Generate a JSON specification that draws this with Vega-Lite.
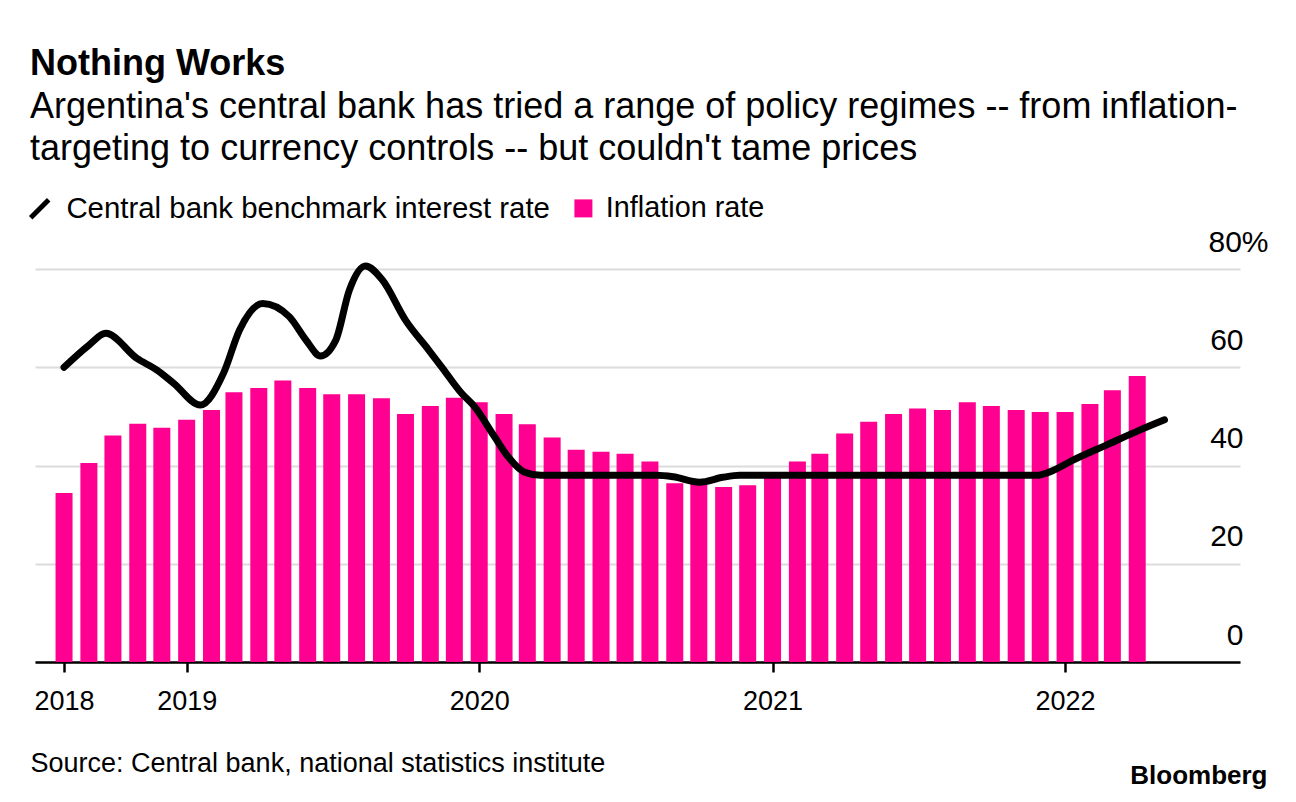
{
  "$schema": "https://vega.github.io/schema/vega-lite/v6.json",
  "width": 1205,
  "height": 393,
  "autosize": {"type": "none"},
  "padding": {"left": 35, "top": 269, "right": 56, "bottom": 140},
  "background": "white",
  "config": {"view": {"stroke": null}, "font": "Liberation Sans"},
  "title": {
    "text": "Nothing Works",
    "subtitle": ["Argentina's central bank has tried a range of policy regimes -- from inflation-", "targeting to currency controls -- but couldn't tame prices"],
    "anchor": "start",
    "frame": "group",
    "dx": -5,
    "font": "Liberation Sans",
    "fontSize": 36,
    "fontWeight": "bold",
    "color": "#000000",
    "subtitleFont": "Liberation Sans",
    "subtitleFontSize": 36,
    "subtitleColor": "#000000",
    "subtitleLineHeight": 42,
    "subtitlePadding": 7,
    "offset": 26
  },
  "datasets": {
    "inflation": [
      {"date": "2018-08-01", "value": 34.4}, {"date": "2018-09-01", "value": 40.5}, {"date": "2018-10-01", "value": 46.1}, {"date": "2018-11-01", "value": 48.5}, {"date": "2018-12-01", "value": 47.7},
      {"date": "2019-01-01", "value": 49.3}, {"date": "2019-02-01", "value": 51.3}, {"date": "2019-03-01", "value": 54.9}, {"date": "2019-04-01", "value": 55.8}, {"date": "2019-05-01", "value": 57.3}, {"date": "2019-06-01", "value": 55.8}, {"date": "2019-07-01", "value": 54.5}, {"date": "2019-08-01", "value": 54.5}, {"date": "2019-09-01", "value": 53.7}, {"date": "2019-10-01", "value": 50.5}, {"date": "2019-11-01", "value": 52.1}, {"date": "2019-12-01", "value": 53.8},
      {"date": "2020-01-01", "value": 52.9}, {"date": "2020-02-01", "value": 50.5}, {"date": "2020-03-01", "value": 48.4}, {"date": "2020-04-01", "value": 45.7}, {"date": "2020-05-01", "value": 43.2}, {"date": "2020-06-01", "value": 42.8}, {"date": "2020-07-01", "value": 42.4}, {"date": "2020-08-01", "value": 40.8}, {"date": "2020-09-01", "value": 36.4}, {"date": "2020-10-01", "value": 37.2}, {"date": "2020-11-01", "value": 35.6}, {"date": "2020-12-01", "value": 36.0},
      {"date": "2021-01-01", "value": 38.5}, {"date": "2021-02-01", "value": 40.8}, {"date": "2021-03-01", "value": 42.4}, {"date": "2021-04-01", "value": 46.5}, {"date": "2021-05-01", "value": 48.9}, {"date": "2021-06-01", "value": 50.5}, {"date": "2021-07-01", "value": 51.6}, {"date": "2021-08-01", "value": 51.3}, {"date": "2021-09-01", "value": 52.9}, {"date": "2021-10-01", "value": 52.1}, {"date": "2021-11-01", "value": 51.3}, {"date": "2021-12-01", "value": 50.9},
      {"date": "2022-01-01", "value": 50.9}, {"date": "2022-02-01", "value": 52.5}, {"date": "2022-03-01", "value": 55.3}, {"date": "2022-04-01", "value": 58.2}
    ],
    "rate": [
      {"date": "2018-08-01", "value": 60.0}, {"date": "2018-09-01", "value": 64.5}, {"date": "2018-09-22", "value": 66.9}, {"date": "2018-10-31", "value": 61.8}, {"date": "2018-11-25", "value": 59.4}, {"date": "2018-12-16", "value": 56.7},
      {"date": "2019-01-18", "value": 52.3}, {"date": "2019-02-16", "value": 58.8}, {"date": "2019-03-08", "value": 67.6}, {"date": "2019-04-06", "value": 73.0}, {"date": "2019-05-09", "value": 70.3}, {"date": "2019-05-30", "value": 65.5}, {"date": "2019-06-17", "value": 62.3}, {"date": "2019-07-06", "value": 65.5}, {"date": "2019-07-23", "value": 75.7}, {"date": "2019-08-12", "value": 80.6}, {"date": "2019-09-02", "value": 77.8}, {"date": "2019-10-01", "value": 69.6}, {"date": "2019-10-30", "value": 63.5}, {"date": "2019-11-15", "value": 60.1}, {"date": "2019-12-10", "value": 54.7}, {"date": "2019-12-26", "value": 52.0},
      {"date": "2020-01-20", "value": 45.9}, {"date": "2020-02-06", "value": 41.8}, {"date": "2020-02-26", "value": 38.7}, {"date": "2020-03-18", "value": 38.0}, {"date": "2020-08-09", "value": 38.0}, {"date": "2020-08-30", "value": 37.7}, {"date": "2020-10-02", "value": 36.6}, {"date": "2020-10-31", "value": 37.6}, {"date": "2020-11-21", "value": 38.0},
      {"date": "2021-11-27", "value": 38.0}, {"date": "2021-12-13", "value": 38.7}, {"date": "2022-01-11", "value": 41.1}, {"date": "2022-02-22", "value": 44.2}, {"date": "2022-04-04", "value": 47.2}, {"date": "2022-05-05", "value": 49.3}
    ]
  },
  "encoding": {
    "x": {
      "field": "date",
      "type": "temporal",
      "scale": {"type": "utc", "domain": [{"year": 2018, "month": 7, "date": 2, "utc": true}, {"year": 2022, "month": 8, "date": 1, "utc": true}]},
      "axis": {
        "values": [{"year": 2018, "month": 8, "date": 1, "utc": true}, {"year": 2019, "month": 1, "date": 1, "utc": true}, {"year": 2020, "month": 1, "date": 1, "utc": true}, {"year": 2021, "month": 1, "date": 1, "utc": true}, {"year": 2022, "month": 1, "date": 1, "utc": true}],
        "format": "%Y",
        "labelFlush": false,
        "grid": false,
        "domainColor": "#000000",
        "domainWidth": 2.5,
        "tickColor": "#000000",
        "tickWidth": 2.5,
        "tickSize": 10,
        "labelFont": "Liberation Sans",
        "labelFontSize": 27,
        "labelColor": "#000000",
        "labelPadding": 16,
        "title": "Source: Central bank, national statistics institute",
        "titleX": -5,
        "titleAlign": "left",
        "titleFont": "Liberation Sans",
        "titleFontSize": 27,
        "titleFontWeight": "normal",
        "titleColor": "#000000",
        "titlePadding": 36
      }
    },
    "y": {
      "field": "value",
      "type": "quantitative",
      "scale": {"domain": [0, 80]},
      "axis": {
        "orient": "right",
        "values": [0, 20, 40, 60, 80],
        "labelExpr": "datum.value == 80 ? '80%' : datum.label",
        "domain": false,
        "ticks": false,
        "grid": true,
        "gridColor": "#dcdcdc",
        "gridWidth": 2,
        "labelFont": "Liberation Sans",
        "labelFontSize": 30,
        "labelColor": "#000000",
        "labelAlign": {"condition": {"test": "datum.value == 80", "value": "left"}, "value": "right"},
        "labelPadding": {"condition": {"test": "datum.value == 80", "value": -32}, "value": 3},
        "labelBaseline": "alphabetic",
        "labelOffset": -18,
        "title": "Bloomberg",
        "titleAngle": 0,
        "titleX": 27,
        "titleY": 514,
        "titleAlign": "right",
        "titleBaseline": "alphabetic",
        "titleFont": "Liberation Sans",
        "titleFontSize": 26,
        "titleFontWeight": "bold",
        "titleColor": "#000000"
      }
    }
  },
  "layer": [
    {
      "data": {"name": "inflation"},
      "mark": {"type": "bar", "width": 17},
      "encoding": {
        "fill": {
          "datum": "Inflation rate",
          "scale": {"range": ["#ff0090"]},
          "legend": {
            "title": null,
            "orient": "none",
            "legendX": 534,
            "legendY": -75,
            "symbolType": "square",
            "symbolSize": 324,
            "symbolStrokeWidth": 0,
            "symbolFillColor": "#ff0090",
            "labelFont": "Liberation Sans",
            "labelFontSize": 28.8,
            "labelColor": "#000000",
            "labelOffset": 8,
            "labelLimit": 800,
            "padding": 0
          }
        }
      }
    },
    {
      "data": {"name": "rate"},
      "mark": {"type": "line", "interpolate": "monotone", "strokeWidth": 7, "strokeCap": "round", "strokeJoin": "round"},
      "encoding": {
        "color": {
          "datum": "Central bank benchmark interest rate",
          "scale": {"range": ["#000000"]},
          "legend": {
            "title": null,
            "orient": "none",
            "legendX": -10,
            "legendY": -75,
            "symbolType": "M-1,1L1,-1",
            "symbolSize": 324,
            "symbolStrokeWidth": 5,
            "symbolStrokeColor": "#000000",
            "labelFont": "Liberation Sans",
            "labelFontSize": 29.4,
            "labelColor": "#000000",
            "labelOffset": 12,
            "labelLimit": 800,
            "padding": 0
          }
        }
      }
    }
  ]
}
